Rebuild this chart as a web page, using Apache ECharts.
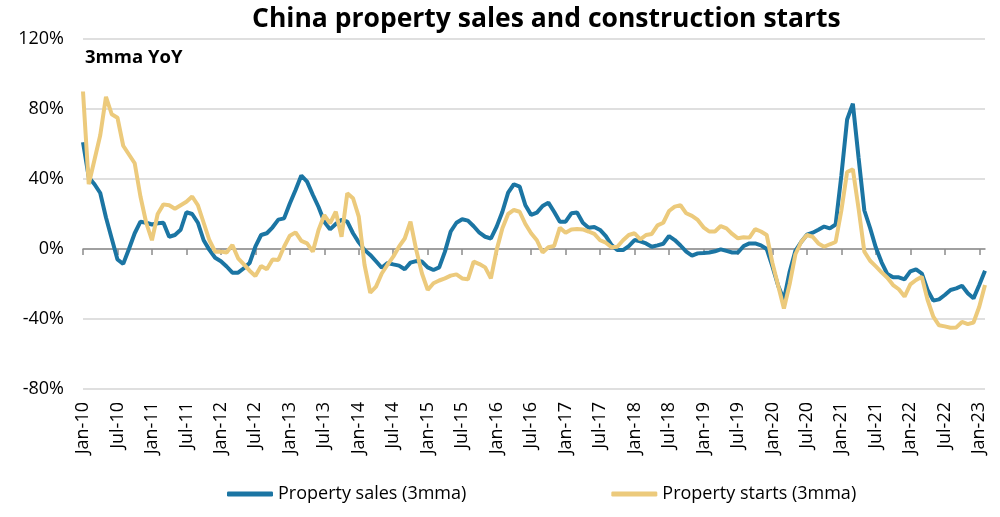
<!DOCTYPE html>
<html>
<head>
<meta charset="utf-8">
<script src="https://cdn.jsdelivr.net/npm/echarts@6/dist/echarts.min.js"></script>
<style>
  html, body { margin: 0; padding: 0; background: #fff; }
  #main { width: 1000px; height: 517px; }
</style>
</head>
<body>
<div id="main"></div>
<script>
// months Jan-10 .. Feb-23
var monthNames = ['Jan','Feb','Mar','Apr','May','Jun','Jul','Aug','Sep','Oct','Nov','Dec'];
var categories = [];
for (var y = 10; y <= 23; y++) {
    for (var m = 0; m < 12; m++) {
        if (y == 23 && m > 1) break;
        categories.push(monthNames[m] + '-' + y);
    }
}

var yTicks = [-80, -40, 0, 40, 80, 120];

// Property sales, 3mma YoY %
var salesData = [
    61, 41, 37, 32, 18, 6, -6, -8.5, 0, 9, 15.6, 15,
    14, 14.7, 15, 7, 8, 11, 21, 20, 15, 5, -0.5, -5,
    -7, -10, -13.5, -13.5, -11, -8, 1.3, 8, 9, 12.4, 16.8, 17.5,
    26, 33.7, 42, 38.5, 31, 24, 15.6, 11.2, 14.3, 16.6, 15.6, 9,
    3.8, -0.5, -3.4, -7, -10.7, -8, -8.8, -9.5, -11.6, -7.8, -6.9, -7.2,
    -10.5, -12, -10.5, -1.5, 10, 15, 17, 16.2, 13, 9.3, 7, 6,
    12.8, 21.3, 32.2, 37, 35.6, 25, 19.5, 20.8, 24.6, 26.5, 21.3, 15.6,
    15.6, 20.4, 20.8, 15, 12.2, 12.6, 10.9, 7.4, 2.3, -0.6, -0.6, 1.7,
    5.1, 4.4, 3.2, 1.3, 2.1, 3, 7.4, 5.1, 2, -1.5, -3.8, -2.5,
    -2.3, -2, -1.3, -0.2, -1.1, -2, -2, 1.7, 3.2, 3.2, 2.1, 0,
    -10, -21, -29, -13, -1, 4, 8.2, 9.3, 11, 12.8, 11.8, 14,
    42, 74, 83, 52, 22, 12, 0.8, -7.6, -14.3, -16.2, -16.2, -17.3,
    -12.8, -11.6, -14, -23.4, -29.5, -28.8, -26.3, -23.4, -22.5, -21, -25.3, -28.2,
    -20.6, -12.4
];

// Property starts, 3mma YoY %
var startsData = [
    90, 37, 51, 65, 87, 77, 75, 59, 54, 49, 30, 15,
    5, 20, 25.5, 25, 23, 25, 27, 30, 25, 15, 5, -1.5,
    -1.5, -2, 2.3, -5.3, -8.8, -12.4, -15.4, -9.7, -11.6, -6, -6.3, 1.3,
    7.6, 9.5, 4.6, 3.2, -1.5, 10.9, 19.4, 14.7, 21.3, 7, 31.8, 29,
    18.5, -9, -25, -21.5, -14, -9, -4.4, 1.3, 6, 15.6, -0.5, -14,
    -23.4, -19.6, -18, -16.8, -15.2, -14.5, -16.8, -17.3, -7.2, -8.6, -10.5, -16.8,
    -0.5, 11.8, 20, 22.3, 21.3, 14.3, 9, 5, -2, 1, 1.7, 12.2,
    9.3, 11.2, 11.4, 11.2, 10, 8.6, 5, 3.6, 1, 1.3, 5, 8,
    9, 5.5, 8, 8.6, 13.5, 15, 21.7, 24.2, 25, 20.4, 18.9, 16.6,
    12.4, 10, 10, 13.1, 11.8, 8.6, 6.1, 6.7, 6.5, 11.4, 10, 8,
    -8, -21, -34, -20, -3, 4, 8, 7, 3.2, 1.3, 2.7, 4,
    22, 44, 45.5, 23, -1.5, -6.7, -9.9, -13.3, -16.4, -20.6, -23, -27.2,
    -20.2, -17.7, -15.8, -29, -38.7, -43.6, -44.2, -45, -44.8, -41.7, -42.9, -42,
    -33, -20.6
];

var blue = '#1b75a3';
var gold = '#ecca7c';
var font = '"Open Sans", Lato, sans-serif';

var option = {
    backgroundColor: '#fff',
    animation: false,
    textStyle: { fontFamily: font },
    title: [
        {
            text: 'China property sales and construction starts',
            left: 247,
            top: 1,
            textStyle: { fontSize: 26.5, fontWeight: 'bold', color: '#000', fontFamily: font }
        },
        {
            text: '3mma YoY',
            left: 80,
            top: 43,
            textStyle: { fontSize: 18.5, fontWeight: 'bold', color: '#000', fontFamily: font }
        }
    ],
    legend: {
        left: 222,
        top: 480,
        itemGap: 145,
        itemWidth: 46,
        itemHeight: 5,
        icon: 'roundRect',
        textStyle: { fontSize: 18, color: '#000', fontFamily: font },
        data: ['Property sales (3mma)', 'Property starts (3mma)']
    },
    grid: { left: 83, right: 15, top: 39, bottom: 128 },
    xAxis: [
        {
            type: 'category',
            data: categories,
            boundaryGap: false,
            axisLine: { show: false, onZero: false },
            axisTick: { show: false },
            axisLabel: {
                rotate: 90,
                interval: 5,
                margin: 13,
                fontSize: 18,
                color: '#000',
                fontFamily: font
            }
        },
        {
            type: 'category',
            data: categories,
            boundaryGap: false,
            position: 'bottom',
            axisLine: { show: true, onZero: true, lineStyle: { color: '#8c8c8c', width: 1.5 } },
            axisTick: { show: true, interval: 5, length: 6, inside: false, lineStyle: { color: '#8c8c8c', width: 1.5 } },
            axisLabel: { show: false }
        }
    ],
    yAxis: {
        type: 'value',
        min: yTicks[0],
        max: yTicks[yTicks.length - 1],
        interval: 40,
        axisLine: { show: false },
        axisTick: { show: false },
        axisLabel: {
            formatter: '{value}%',
            margin: 19,
            fontSize: 18,
            color: '#000',
            fontFamily: font
        },
        splitLine: { lineStyle: { color: '#d4d4d4', width: 1.5 } }
    },
    series: [
        {
            name: 'Property sales (3mma)',
            type: 'line',
            data: salesData,
            showSymbol: false,
            symbol: 'none',
            color: blue,
            lineStyle: { color: blue, width: 4 }
        },
        {
            name: 'Property starts (3mma)',
            type: 'line',
            data: startsData,
            showSymbol: false,
            symbol: 'none',
            color: gold,
            lineStyle: { color: gold, width: 4 }
        }
    ]
};

var myChart = echarts.init(document.getElementById('main'));
myChart.setOption(option);
</script>
</body>
</html>
